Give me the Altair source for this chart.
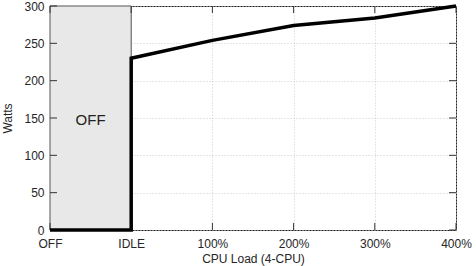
import altair as alt
import pandas as pd

# Power draw across CPU load levels
load_labels = ["OFF", "IDLE", "100%", "200%", "300%", "400%"]
line_x = [0, 1, 1, 2, 3, 4, 5]
line_watts = [0, 0, 230, 254, 274, 284, 300]
y_ticks = [0, 50, 100, 150, 200, 250, 300]
x_ticks = [0, 1, 2, 3, 4, 5]

W, H = 406, 224
FONT = "Liberation Sans"

line_df = pd.DataFrame({"x": line_x, "watts": line_watts, "order": list(range(len(line_x)))})
off_df = pd.DataFrame({"x": [0], "x2": [1], "y": [0], "y2": [300]})
off_text_df = pd.DataFrame({"x": [0.5], "y": [147], "label": ["OFF"]})
yt_df = pd.DataFrame({"v": y_ticks})
xt_df = pd.DataFrame({"v": x_ticks})

label_expr = "[" + ",".join(f"'{l}'" for l in load_labels) + "][datum.value]"

x_scale = alt.Scale(domain=[0, 5], nice=False, zero=False)
y_scale = alt.Scale(domain=[0, 300], nice=False)

x_axis = alt.Axis(
    title="CPU Load (4-CPU)", values=x_ticks, labelExpr=label_expr,
    grid=True, gridDash=[1, 2], gridColor="#cccccc",
    tickSize=0, labelPadding=8, domain=False,
    labelFlush=False, labelOverlap=False, labelBound=False,
    labelFont=FONT, labelFontSize=12, labelColor="#262626",
    titleFont=FONT, titleFontSize=12, titleFontWeight="normal", titleColor="#262626",
    titlePadding=4,
)
y_axis = alt.Axis(
    title="Watts", values=y_ticks,
    grid=True, gridDash=[1, 2], gridColor="#cccccc",
    tickSize=0, labelPadding=6, domain=False,
    labelFlush=False, labelOverlap=False, labelBound=False,
    labelFont=FONT, labelFontSize=12, labelColor="#262626",
    titleFont=FONT, titleFontSize=12, titleFontWeight="normal", titleColor="#262626",
    titlePadding=9,
)

X = lambda f: alt.X(f, scale=x_scale, axis=x_axis)
Y = lambda f: alt.Y(f, scale=y_scale, axis=y_axis)

off_region = alt.Chart(off_df).mark_rect(
    fill="#e8e8e8", stroke="#555555", strokeWidth=1
).encode(x=X("x:Q"), x2="x2:Q", y=Y("y:Q"), y2="y2:Q")

off_label = alt.Chart(off_text_df).mark_text(
    font=FONT, fontSize=15, color="#222222"
).encode(x=X("x:Q"), y=Y("y:Q"), text="label:N")

# inward ticks on all four sides
tick_style = dict(color="#333333", strokeWidth=1)
left_ticks = alt.Chart(yt_df).mark_rule(**tick_style).encode(
    y=Y("v:Q"), x=alt.value(0), x2=alt.value(7))
right_ticks = alt.Chart(yt_df).mark_rule(**tick_style).encode(
    y=Y("v:Q"), x=alt.value(W - 7), x2=alt.value(W))
bottom_ticks = alt.Chart(xt_df).mark_rule(**tick_style).encode(
    x=X("v:Q"), y=alt.value(H - 7), y2=alt.value(H))
top_ticks = alt.Chart(xt_df).mark_rule(**tick_style).encode(
    x=X("v:Q"), y=alt.value(0), y2=alt.value(7))

power_line = alt.Chart(line_df).mark_line(
    color="#000000", strokeWidth=3.5, strokeJoin="miter"
).encode(x=X("x:Q"), y=Y("watts:Q"), order="order:Q")

chart = alt.layer(
    off_region, off_label, left_ticks, right_ticks, bottom_ticks, top_ticks, power_line
).properties(
    width=W, height=H,
    autosize=alt.AutoSizeParams(type="none"),
    padding={"left": 50, "top": 6, "right": 20, "bottom": 36},
    background="white",
).configure_view(
    stroke="#222222", strokeWidth=1
)

chart.save("out.html", embed_options={"renderer": "svg", "actions": False})
